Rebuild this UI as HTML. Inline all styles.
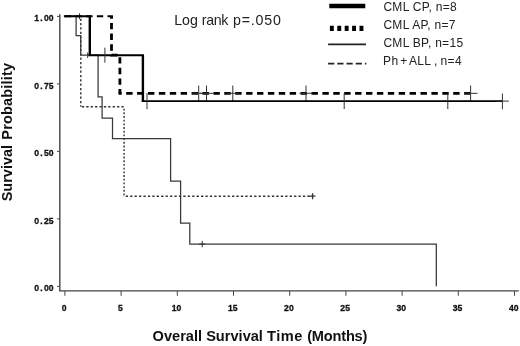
<!DOCTYPE html>
<html>
<head>
<meta charset="utf-8">
<title>Overall Survival Time</title>
<style>
html,body{margin:0;padding:0;background:#fff;}
body{width:520px;height:346px;overflow:hidden;}
svg{display:block;}
.ax{stroke:#444;stroke-width:1.4;fill:none;}
.tk{stroke:#444;stroke-width:1;fill:none;}
.lab{font-family:"Liberation Sans",Arial,sans-serif;font-weight:bold;font-size:8.6px;fill:#111;stroke:#111;stroke-width:0.3px;}
.leg{font-family:"Liberation Sans",Arial,sans-serif;font-size:12px;letter-spacing:0.3px;fill:#222;}
.ttl{font-family:"Liberation Sans",Arial,sans-serif;font-weight:bold;fill:#111;}
.cp{stroke:#000;stroke-width:2.5;fill:none;}
.ap{stroke:#000;stroke-width:2.8;fill:none;stroke-dasharray:6.5 4;}
.bp{stroke:#383838;stroke-width:1.25;fill:none;}
.ph{stroke:#333;stroke-width:1.4;fill:none;stroke-dasharray:2.3 2.1;}
.cs{stroke:#333;stroke-width:1;fill:none;}
</style>
</head>
<body>
<svg width="520" height="346" viewBox="0 0 520 346">
<rect x="0" y="0" width="520" height="346" fill="#fff"/>

<!-- axes -->
<path class="ax" d="M59.8 14.2 V290.9 H518.7"/>
<!-- y ticks -->
<path class="tk" d="M57 16.4 H59.8 M57 83.9 H59.8 M57 151.4 H59.8 M57 218.9 H59.8 M57 286.4 H59.8"/>
<!-- x ticks -->
<path class="tk" d="M64.9 291 V295.8 M121.1 291 V295.8 M177.3 291 V295.8 M233.5 291 V295.8 M289.7 291 V295.8 M345.9 291 V295.8 M402.1 291 V295.8 M458.3 291 V295.8 M514.5 291 V295.8"/>

<!-- y tick labels -->
<g class="lab">
<text x="34.27 40.31 43.97 48.82" y="21.40">1.00</text>
<text x="34.27 40.31 43.97 48.82" y="88.90">0.75</text>
<text x="34.27 40.31 43.97 48.82" y="156.40">0.50</text>
<text x="34.27 40.31 43.97 48.82" y="223.90">0.25</text>
<text x="34.27 40.31 43.97 48.82" y="291.40">0.00</text>
</g>
<!-- x tick labels -->
<g class="lab">
<text x="61.71" y="310.60">0</text>
<text x="117.91" y="310.60">5</text>
<text x="171.68 176.53" y="310.60">10</text>
<text x="227.88 232.73" y="310.60">15</text>
<text x="284.08 288.93" y="310.60">20</text>
<text x="340.28 345.13" y="310.60">25</text>
<text x="396.48 401.33" y="310.60">30</text>
<text x="452.68 457.53" y="310.60">35</text>
<text x="508.88 513.73" y="310.60">40</text>
</g>

<!-- Ph+ ALL (thin dotted) -->
<path class="ph" d="M64.9 16.4 H80.8"/>
<path class="ph" d="M80.8 16.4 V106.7" style="stroke-dasharray:2.25 2.08;stroke-dashoffset:2.08"/>
<path class="ph" d="M80.8 106.7 H124.8" style="stroke-dasharray:2.3 2.1;stroke-dashoffset:3.35"/>
<path class="ph" d="M124.1 106.7 V196.2" style="stroke-dasharray:1.85 1.84;stroke-dashoffset:1.74"/>
<path class="ph" d="M123.4 196.2 H312" style="stroke-dasharray:2.3 2.13;stroke-dashoffset:2.13"/>
<path class="cs" d="M312.6 193.2 V199.3 M309.4 196.2 H315.4" style="stroke-width:1.3"/>
<path class="cs" d="M79.5 13.4 V19.2"/>

<!-- CML BP (thin solid) -->
<path class="bp" d="M64.9 16.4 H76.1 V35.6 H80.7 V55.2 H98.1 V96.9 H102.1 V118.1 H112.5 V138.7 H170.6 V181.2 H180.6 V223 H189.8 V244 H436.3 V286.2"/>
<path class="cs" d="M87.7 52.4 V58 M202.2 240.9 V247.3 M199.2 244 H205.2"/>

<!-- CML AP (thick dashed) -->
<path class="ap" d="M64.9 16.3 H112.9" style="stroke-width:2;stroke-dasharray:6.4 4.25"/>
<path class="ap" d="M111.5 16.3 V55.2 H119.9 V93.3" style="stroke-dasharray:6.4 4.25;stroke-dashoffset:4"/>
<path class="ap" d="M118.5 93.3 H470.6" style="stroke-width:2.7;stroke-dasharray:6.4 4.5;stroke-dashoffset:3.2"/>
<path class="cs" d="M198.7 85.5 V101 M192.2 93.3 H205.2 M206.5 85.5 V101 M200 93.3 H213 M232.8 85.5 V101 M226.3 93.3 H239.3 M306 85.5 V101 M299.5 93.3 H312.5 M470.6 85.5 V101 M464 93.3 H477.5"/>

<!-- CML CP (thick solid) -->
<path class="cp" d="M63.9 16.3 H91 M88.6 55.2 H144 M141.7 101.1 H502.6" style="stroke-width:1.9"/>
<path class="cp" d="M89.8 16.3 V55.2 M142.9 55.2 V101.1" style="stroke-width:2.4"/>
<path class="cs" d="M104.9 47.7 V62.7 M147 93 V109.2 M344.2 93.4 V109 M447.8 93.4 V109 M502.4 93.6 V109.2 M495.8 101.1 H508.8"/>

<!-- annotation -->
<text class="leg" y="25.1" style="font-size:14.2px;letter-spacing:0"><tspan x="174.2">Log </tspan><tspan style="letter-spacing:-0.35px">rank</tspan><tspan x="232.9" style="letter-spacing:0.85px">p=.050</tspan></text>

<!-- legend -->
<path d="M329.3 6 H365.3" stroke="#000" stroke-width="4.5" fill="none"/>
<path d="M329.9 28.3 H364" stroke="#000" stroke-width="5.2" stroke-dasharray="3.9 3.5" fill="none"/>
<path d="M328.1 44.4 H366" stroke="#222" stroke-width="1.7" fill="none"/>
<path d="M328.1 63.7 H366.3" stroke="#222" stroke-width="1.7" stroke-dasharray="6.2 3" fill="none"/>
<text class="leg" x="383.4" y="10.5">CML CP, n=8</text>
<text class="leg" x="383.4" y="28.9">CML AP, n=7</text>
<text class="leg" x="383.4" y="47.3">CML BP, n=15</text>
<text class="leg" y="65.1"><tspan x="383.1">Ph</tspan><tspan x="400.2">+</tspan><tspan x="409">ALL</tspan><tspan x="434">,</tspan><tspan x="440.6">n=4</tspan></text>

<!-- axis titles -->
<text class="ttl" y="340.6" style="font-size:14.6px"><tspan x="152.6">Overall Survival</tspan> <tspan style="letter-spacing:0.5px">Time</tspan><tspan x="307.2" style="letter-spacing:-0.2px">(Months)</tspan></text>
<text class="ttl" transform="translate(11.6 201.3) rotate(-90)" style="font-size:14.5px"><tspan x="0">Survival</tspan> <tspan x="61.6" style="letter-spacing:0.18px">Probability</tspan></text>
</svg>
</body>
</html>
